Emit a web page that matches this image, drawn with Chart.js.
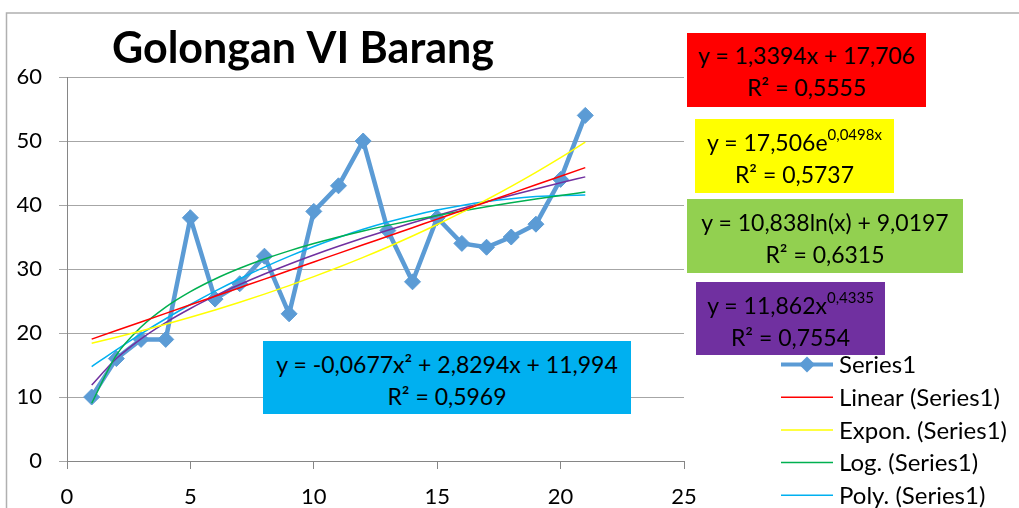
<!DOCTYPE html>
<html>
<head>
<meta charset="utf-8">
<script src="https://cdn.jsdelivr.net/npm/chart.js@4.4.0/dist/chart.umd.min.js"></script>
<style>
  body { margin: 0; background: #fff; }
  #wrap { position: relative; width: 1019px; height: 508px; overflow: hidden; }
  .eq { position: absolute; box-sizing: border-box; text-align: center; font-family: Lato, sans-serif; font-size: 23px; line-height: 32px; color: #000; white-space: nowrap; }
  .eq sup { font-size: 15px; line-height: 0; position: relative; top: -2px; vertical-align: super; }
</style>
</head>
<body>
<div id="wrap">
  <canvas id="chart" width="1019" height="508"></canvas>
  <div class="eq" style="left:687px;top:33px;width:239px;height:74px;padding-top:6px;background:#ff0000;">y = 1,3394x + 17,706<br>R² = 0,5555</div>
  <div class="eq" style="left:695px;top:119px;width:199px;height:74px;padding-top:7px;background:#ffff00;">y = 17,506e<sup>0,0498x</sup><br>R² = 0,5737</div>
  <div class="eq" style="left:687px;top:199px;width:276px;height:74px;padding-top:7px;background:#92d050;">y = 10,838ln(x) + 9,0197<br>R² = 0,6315</div>
  <div class="eq" style="left:696px;top:282px;width:189px;height:73px;padding-top:7px;background:#7030a0;">y = 11,862x<sup>0,4335</sup><br>R² = 0,7554</div>
  <div class="eq" style="left:263px;top:341px;width:368px;height:73px;padding-top:7px;background:#00b0f0;">y = -0,0677x² + 2,8294x + 11,994<br>R² = 0,5969</div>
</div>
<script>
var chartTitle = 'Golongan VI Barang';
var xValues = [1, 2, 3, 4, 5, 6, 7, 8, 9, 10, 11, 12, 13, 14, 15, 16, 17, 18, 19, 20, 21];
var series1 = [10, 16, 19, 19, 38, 25.3, 27.7, 32, 23, 39, 43, 50, 36, 28, 38, 34, 33.4, 35, 37, 44, 54];
var xTicks = [0, 5, 10, 15, 20, 25];
var yTicks = [0, 10, 20, 30, 40, 50, 60];
// trendline coefficients as printed on the chart
var linearCoef = [1.3394, 17.706];
var exponCoef = [17.506, 0.0498];
var logCoef = [10.838, 9.0197];
var polyCoef = [-0.0677, 2.8294, 11.994];
var powerCoef = [11.862, 0.4335];

function trend(fn){
  return xValues.map(function(x){ return {x: x, y: fn(x)}; });
}
var linearPts = trend(function(x){ return linearCoef[0]*x + linearCoef[1]; });
var exponPts = trend(function(x){ return exponCoef[0]*Math.exp(exponCoef[1]*x); });
var logPts = trend(function(x){ return logCoef[0]*Math.log(x) + logCoef[1]; });
var polyPts = trend(function(x){ return polyCoef[0]*x*x + polyCoef[1]*x + polyCoef[2]; });
var powerPts = trend(function(x){ return powerCoef[0]*Math.pow(x, powerCoef[1]); });

var tickFont = {family: 'Lato', size: 22};

function trendSet(label, pts, color){
  return {label: label, data: pts, showLine: true, borderColor: color, backgroundColor: color, borderWidth: 1.5,
    pointRadius: 0, cubicInterpolationMode: 'monotone', fill: false, order: 1};
}

var legendPlugin = {
  id: 'excelBits',
  beforeDraw: function(chart){
    var ctx = chart.ctx;
    ctx.save();
    ctx.strokeStyle = '#b0b0b0';
    ctx.lineWidth = 1.5;
    ctx.strokeRect(6.5, 13, 1100, 600);
    ctx.restore();
  },
  afterDraw: function(chart){
    var ctx = chart.ctx;
    ctx.save();
    ctx.fillStyle = '#000';
    ctx.font = 'bold 43px Lato';
    ctx.textBaseline = 'alphabetic';
    ctx.fillText(chartTitle, 112, 63);
    ctx.font = '24px Lato';
    ctx.textBaseline = 'middle';
    chart.data.datasets.forEach(function(ds, i){
      var y = 364.5 + i*32.7;
      ctx.strokeStyle = ds.borderColor;
      ctx.lineWidth = i === 0 ? 4 : 1.5;
      ctx.beginPath(); ctx.moveTo(781, y); ctx.lineTo(833, y); ctx.stroke();
      if (i === 0){
        ctx.fillStyle = ds.backgroundColor;
        ctx.beginPath(); ctx.moveTo(807-8, y); ctx.lineTo(807, y-8); ctx.lineTo(807+8, y); ctx.lineTo(807, y+8); ctx.closePath(); ctx.fill();
      }
      ctx.fillStyle = '#000';
      ctx.fillText(ds.label, 839, y + 1);
    });
    ctx.restore();
  }
};

new Chart(document.getElementById('chart'), {
  type: 'scatter',
  data: {
    datasets: [
      {label: 'Series1', data: xValues.map(function(x, i){ return {x: x, y: series1[i]}; }),
       showLine: true, borderColor: '#5b9bd5', backgroundColor: '#5b9bd5', borderWidth: 4.5,
       pointStyle: 'rectRot', pointRadius: 8, pointBorderWidth: 1, order: 5},
      trendSet('Linear (Series1)', linearPts, '#ff0000'),
      trendSet('Expon. (Series1)', exponPts, '#ffff00'),
      trendSet('Log. (Series1)', logPts, '#00b050'),
      trendSet('Poly. (Series1)', polyPts, '#00b0f0'),
      trendSet('Power (Series1)', powerPts, '#7030a0')
    ]
  },
  options: {
    responsive: false,
    animation: false,
    layout: {padding: {left: 0, top: 77, right: 335, bottom: 0}},
    plugins: {legend: {display: false}, tooltip: {enabled: false}, title: {display: false}},
    scales: {
      x: {type: 'linear', min: 0, max: 25,
        afterBuildTicks: function(s){ s.ticks = xTicks.map(function(v){ return {value: v}; }); },
        ticks: {font: tickFont, color: '#000', padding: 15, maxRotation: 0},
        grid: {drawOnChartArea: false, tickLength: 8, color: '#868686'},
        border: {color: '#868686', width: 1},
        afterFit: function(s){ s.height = 47; }},
      y: {min: 0, max: 60,
        afterBuildTicks: function(s){ s.ticks = yTicks.map(function(v){ return {value: v}; }); },
        ticks: {font: tickFont, color: '#000', padding: 17},
        grid: {color: '#a6a6a6', tickLength: 8},
        border: {color: '#868686', width: 1},
        afterFit: function(s){ s.width = 67; }}
    }
  },
  plugins: [legendPlugin]
});
</script>
</body>
</html>
